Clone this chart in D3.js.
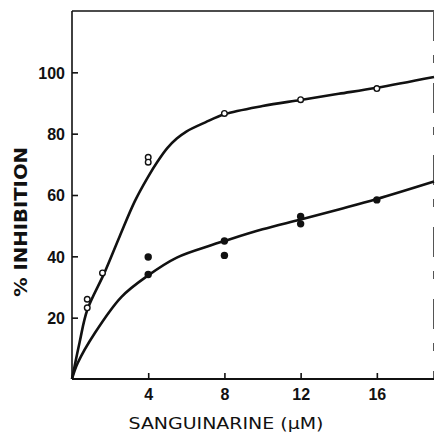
<!DOCTYPE html>
<html>
<head>
<meta charset="utf-8">
<script src="https://cdn.jsdelivr.net/npm/d3@7"></script>
<style>
  body { margin: 0; background: #fff; }
  svg { display: block; }
</style>
</head>
<body>
<div id="chart"></div>
<script>
// open circles (upper series)
const openX = [0.8, 0.8, 1.6, 4, 4, 8, 12, 16];
const openY = [26, 23.2, 34.6, 72.3, 70.7, 86.6, 91.1, 94.7];
// filled circles (lower series)
const fillX = [4, 4, 8, 8, 12, 12, 16];
const fillY = [39.8, 34.1, 45, 40.3, 53, 50.6, 58.4];
// hand-drawn fitted curves, traced points
const upperCurveX = [0, 0.4, 0.8, 1.7, 2.5, 3.3, 4, 4.5, 5, 5.5, 6, 7, 8, 10, 12, 14, 16, 19];
const upperCurveY = [0, 12, 22.5, 34.6, 46.5, 58, 66, 71, 75.3, 78.4, 80.7, 83.7, 86.3, 89, 91, 93, 95, 98.5];
const lowerCurveX = [0, 0.3, 1.2, 2.6, 4, 5.5, 7.3, 8, 10, 12, 14, 16, 19];
const lowerCurveY = [0, 5.2, 15, 26.8, 33.8, 39.6, 43.6, 45, 48.8, 52, 55.3, 58.7, 64.4];
const xTicks = [4, 8, 12, 16];
const yTicks = [20, 40, 60, 80, 100];

const W = 435, H = 435;
const margin = {top: 11, right: 1, bottom: 56, left: 72};

const svg = d3.select("#chart").append("svg")
    .attr("width", W)
    .attr("height", H);

const x = d3.scaleLinear().domain([0, 19]).range([margin.left, W - margin.right]);
const y = d3.scaleLinear().domain([0, 120]).range([H - margin.bottom, margin.top]);

const ink = "#111";

// frame: top line + faint broken right edge
svg.append("line")
    .attr("x1", x(0)).attr("x2", x(19))
    .attr("y1", y(120)).attr("y2", y(120))
    .attr("stroke", ink).attr("stroke-width", 1.6);
svg.append("line")
    .attr("x1", x(19) - 0.5).attr("x2", x(19) - 0.5)
    .attr("y1", y(120)).attr("y2", y(0))
    .attr("stroke", "#555").attr("stroke-width", 1)
    .attr("stroke-dasharray", "30,14,8,20");

// Y axis (inward ticks)
const yAxis = d3.axisRight(y).tickValues(yTicks).tickSize(6).tickFormat(d3.format("d"));
const gy = svg.append("g")
    .attr("transform", `translate(${x(0)},0)`)
    .call(yAxis);
gy.select(".domain").remove();
gy.selectAll(".tick line").attr("stroke", ink).attr("stroke-width", 1.6);
gy.selectAll(".tick text")
    .attr("x", -7)
    .attr("text-anchor", "end")
    .attr("dy", "0.36em")
    .style("font-family", "'Liberation Sans', Arial, sans-serif")
    .style("font-weight", "bold")
    .style("font-size", "16px")
    .attr("fill", ink);
svg.append("line")
    .attr("x1", x(0)).attr("x2", x(0))
    .attr("y1", y(120)).attr("y2", y(0))
    .attr("stroke", ink).attr("stroke-width", 1.6);

// X axis (inward ticks)
const xAxis = d3.axisTop(x).tickValues(xTicks).tickSize(6);
const gx = svg.append("g")
    .attr("transform", `translate(0,${y(0)})`)
    .call(xAxis);
gx.select(".domain").remove();
gx.selectAll(".tick line").attr("stroke", ink).attr("stroke-width", 1.6);
gx.selectAll(".tick text")
    .attr("y", 21)
    .attr("dy", 0)
    .style("font-family", "'Liberation Sans', Arial, sans-serif")
    .style("font-weight", "bold")
    .style("font-size", "16px")
    .attr("fill", ink);
svg.append("line")
    .attr("x1", x(0)).attr("x2", x(19))
    .attr("y1", y(0)).attr("y2", y(0))
    .attr("stroke", ink).attr("stroke-width", 1.8);

// axis titles
svg.append("text")
    .attr("x", 226).attr("y", 429)
    .attr("text-anchor", "middle")
    .attr("textLength", 195).attr("lengthAdjust", "spacingAndGlyphs")
    .style("font-family", "'DejaVu Sans', sans-serif")
    .style("font-size", "16px")
    .attr("fill", ink)
    .text("SANGUINARINE (μM)");

svg.append("text")
    .attr("transform", "translate(27,222) rotate(-90)")
    .attr("text-anchor", "middle")
    .attr("textLength", 150).attr("lengthAdjust", "spacingAndGlyphs")
    .style("font-family", "'DejaVu Sans', sans-serif")
    .style("font-weight", "bold")
    .style("font-size", "17px")
    .attr("fill", ink)
    .text("% INHIBITION");

// curves
const line = d3.line()
    .x(d => x(d[0]))
    .y(d => y(d[1]))
    .curve(d3.curveCatmullRom.alpha(0.5));

svg.append("path")
    .datum(d3.zip(upperCurveX, upperCurveY))
    .attr("d", line)
    .attr("fill", "none").attr("stroke", ink).attr("stroke-width", 2.6);
svg.append("path")
    .datum(d3.zip(lowerCurveX, lowerCurveY))
    .attr("d", line)
    .attr("fill", "none").attr("stroke", ink).attr("stroke-width", 2.6);

// points
svg.selectAll(".open")
    .data(d3.zip(openX, openY))
    .enter().append("circle")
    .attr("class", "open")
    .attr("cx", d => x(d[0]))
    .attr("cy", d => y(d[1]))
    .attr("r", 2.8)
    .attr("fill", "#fff").attr("stroke", ink).attr("stroke-width", 1.4);

svg.selectAll(".filled")
    .data(d3.zip(fillX, fillY))
    .enter().append("circle")
    .attr("class", "filled")
    .attr("cx", d => x(d[0]))
    .attr("cy", d => y(d[1]))
    .attr("r", 3.7)
    .attr("fill", ink);
</script>
</body>
</html>
